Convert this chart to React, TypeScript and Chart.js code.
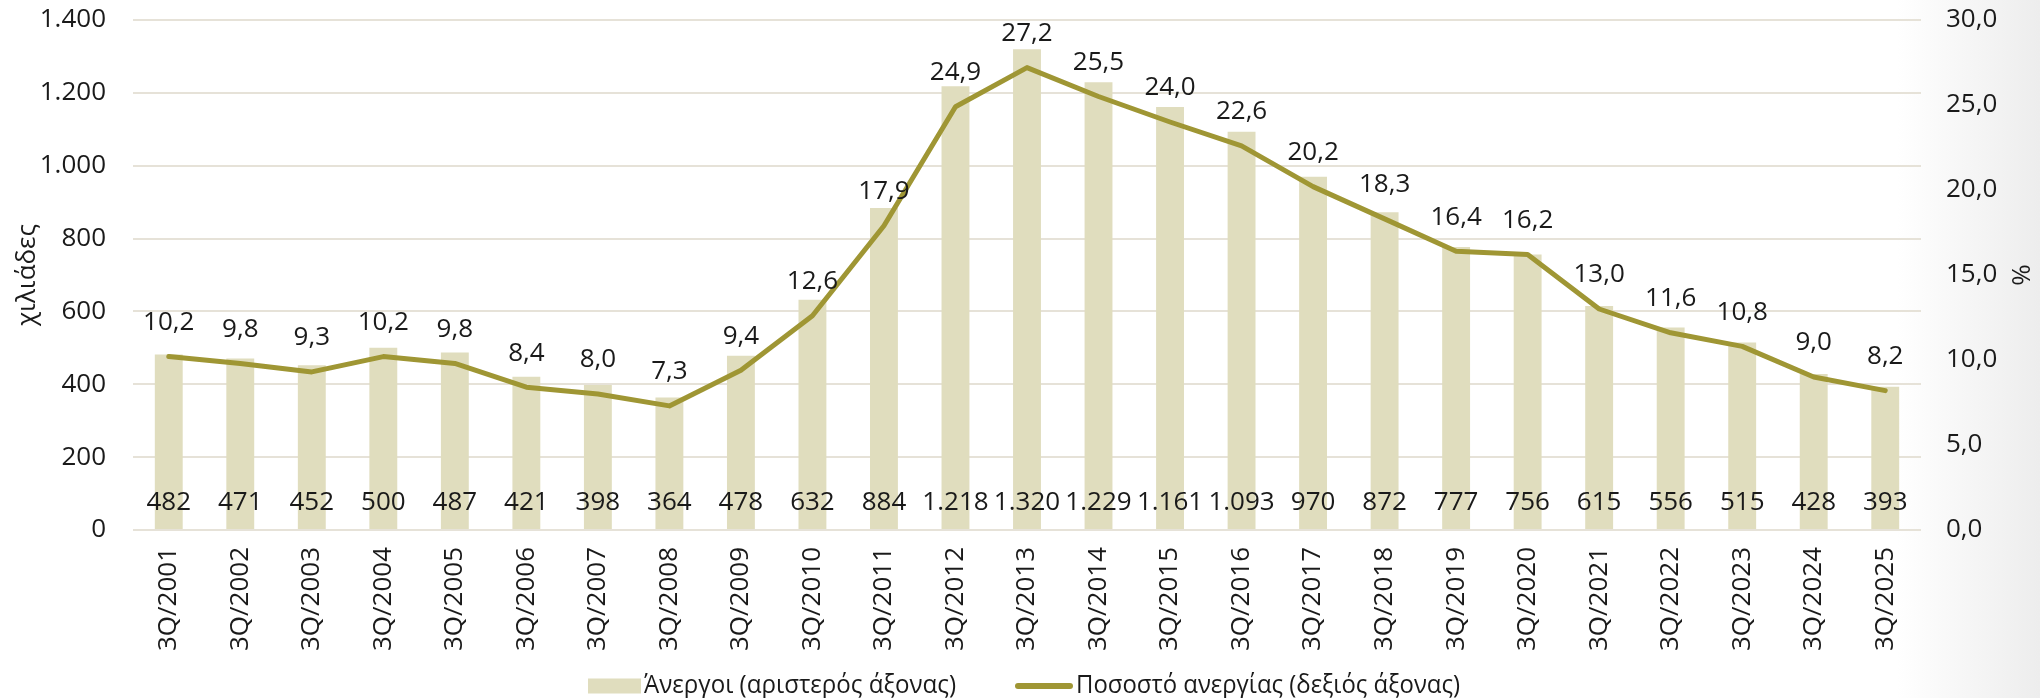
import React, { useEffect, useRef } from "react";
import { Chart, registerables } from "chart.js";

Chart.register(...registerables);

const categories = [
  "3Q/2001", "3Q/2002", "3Q/2003", "3Q/2004", "3Q/2005", "3Q/2006", "3Q/2007", "3Q/2008", "3Q/2009",
  "3Q/2010", "3Q/2011", "3Q/2012", "3Q/2013", "3Q/2014", "3Q/2015", "3Q/2016", "3Q/2017", "3Q/2018",
  "3Q/2019", "3Q/2020", "3Q/2021", "3Q/2022", "3Q/2023", "3Q/2024", "3Q/2025",
];

const unemployed = [
  482, 471, 452, 500, 487, 421, 398, 364, 478, 632, 884, 1218, 1320, 1229, 1161, 1093, 970, 872, 777, 756,
  615, 556, 515, 428, 393,
];

const unemploymentRate = [
  10.2, 9.8, 9.3, 10.2, 9.8, 8.4, 8.0, 7.3, 9.4, 12.6, 17.9, 24.9, 27.2, 25.5, 24.0, 22.6, 20.2, 18.3, 16.4,
  16.2, 13.0, 11.6, 10.8, 9.0, 8.2,
];

const barLabel = "Άνεργοι (αριστερός άξονας)";
const lineLabel = "Ποσοστό ανεργίας (δεξιός άξονας)";
const leftTitle = "χιλιάδες";
const rightTitle = "%";

const BAR_COLOR = "#E0DDBE";
const LINE_COLOR = "#9F9634";
const GRID_COLOR = "#E6E2D8";
const TEXT_COLOR = "#1a1a1a";
const FONT = "'Open Sans', 'Noto Sans', sans-serif";
const FS = 26;

const fmtThousands = (v: number) => String(Math.round(v)).replace(/\B(?=(\d{3})+(?!\d))/g, ".");
const fmtDecimal = (v: number) => Number(v).toFixed(1).replace(".", ",");

const dataLabelPlugin = {
  id: "dataLabels",
  afterDatasetsDraw(chart: any) {
    const ctx = chart.ctx;
    const yLeft = chart.scales.y;
    ctx.save();
    ctx.font = `${FS}px ${FONT}`;
    ctx.fillStyle = TEXT_COLOR;
    ctx.textAlign = "center";
    ctx.textBaseline = "middle";
    const barMeta = chart.getDatasetMeta(0);
    barMeta.data.forEach((el: any, i: number) => {
      const base = yLeft.getPixelForValue(0);
      ctx.fillText(fmtThousands(unemployed[i]), el.x, base - 27);
    });
    const lineMeta = chart.getDatasetMeta(1);
    lineMeta.data.forEach((el: any, i: number) => {
      ctx.fillText(fmtDecimal(unemploymentRate[i]), el.x, el.y - 34);
    });
    ctx.restore();
  },
};

const customLegendPlugin = {
  id: "customLegend",
  afterDraw(chart: any) {
    const ctx = chart.ctx;
    const y = 686;
    ctx.save();
    ctx.font = `${FS}px ${FONT}`;
    ctx.textBaseline = "middle";
    ctx.textAlign = "left";
    ctx.fillStyle = BAR_COLOR;
    ctx.fillRect(588, y - 7.5, 53, 15);
    ctx.fillStyle = TEXT_COLOR;
    ctx.fillText(barLabel, 644, y, 312);
    ctx.strokeStyle = LINE_COLOR;
    ctx.lineWidth = 6;
    ctx.lineCap = "round";
    ctx.beginPath();
    ctx.moveTo(1018, y);
    ctx.lineTo(1070, y);
    ctx.stroke();
    ctx.fillText(lineLabel, 1076, y, 384);
    ctx.restore();
  },
};

const trimPadding = (scale: any, width: number) => {
  scale.width = width;
  scale.paddingTop = 16;
  scale.paddingBottom = 16;
};

export default function App() {
  const canvasRef = useRef<HTMLCanvasElement | null>(null);

  useEffect(() => {
    document.body.style.margin = "0";
    const canvas = canvasRef.current;
    if (!canvas) return;
    const chart = new Chart(canvas, {
      type: "bar",
      data: {
        labels: categories,
        datasets: [
          {
            type: "bar",
            label: barLabel,
            data: unemployed,
            backgroundColor: BAR_COLOR,
            borderWidth: 0,
            yAxisID: "y",
            barPercentage: 0.39,
            categoryPercentage: 1,
            order: 2,
          },
          {
            type: "line",
            label: lineLabel,
            data: unemploymentRate,
            borderColor: LINE_COLOR,
            backgroundColor: LINE_COLOR,
            borderWidth: 5,
            borderCapStyle: "round",
            borderJoinStyle: "round",
            pointRadius: 0,
            tension: 0,
            yAxisID: "y1",
            order: 1,
          } as any,
        ],
      },
      options: {
        animation: false,
        responsive: false,
        maintainAspectRatio: false,
        layout: { padding: { top: 20, left: 0, right: 0, bottom: 0 } },
        plugins: {
          legend: { display: false },
          tooltip: { enabled: false },
        },
        scales: {
          x: {
            grid: { display: false, drawTicks: false },
            border: { display: false },
            ticks: {
              font: { family: FONT, size: FS },
              color: TEXT_COLOR,
              minRotation: 90,
              maxRotation: 90,
              padding: 17,
              autoSkip: false,
            },
            afterFit(scale: any) {
              scale.height = 168;
            },
          },
          y: {
            position: "left",
            min: 0,
            max: 1400,
            grid: { color: GRID_COLOR, lineWidth: 2, drawTicks: false },
            border: { display: false },
            ticks: {
              stepSize: 200,
              padding: 27,
              font: { family: FONT, size: FS },
              color: TEXT_COLOR,
              callback: (v: any) => fmtThousands(Number(v)),
            },
            title: {
              display: true,
              text: leftTitle,
              font: { family: FONT, size: FS },
              color: TEXT_COLOR,
              padding: { top: 12, bottom: 0 },
            },
            afterFit(scale: any) {
              trimPadding(scale, 133);
            },
          },
          y1: {
            position: "right",
            min: 0,
            max: 30,
            grid: { display: false, drawTicks: false },
            border: { display: false },
            ticks: {
              stepSize: 5,
              padding: 25,
              font: { family: FONT, size: FS },
              color: TEXT_COLOR,
              callback: (v: any) => fmtDecimal(Number(v)),
            },
            title: {
              display: true,
              text: rightTitle,
              font: { family: FONT, size: FS },
              color: TEXT_COLOR,
              padding: { top: 5, bottom: 0 },
            },
            afterFit(scale: any) {
              trimPadding(scale, 119);
            },
          },
        },
      },
      plugins: [dataLabelPlugin, customLegendPlugin],
    } as any);
    return () => chart.destroy();
  }, []);

  return (
    <div
      style={{
        width: 2040,
        height: 698,
        position: "relative",
        background: "linear-gradient(to right, #ffffff 0%, #ffffff 93%, #ededed 100%)",
      }}
    >
      <canvas ref={canvasRef} width={2040} height={698} style={{ display: "block", width: 2040, height: 698 }} />
    </div>
  );
}
